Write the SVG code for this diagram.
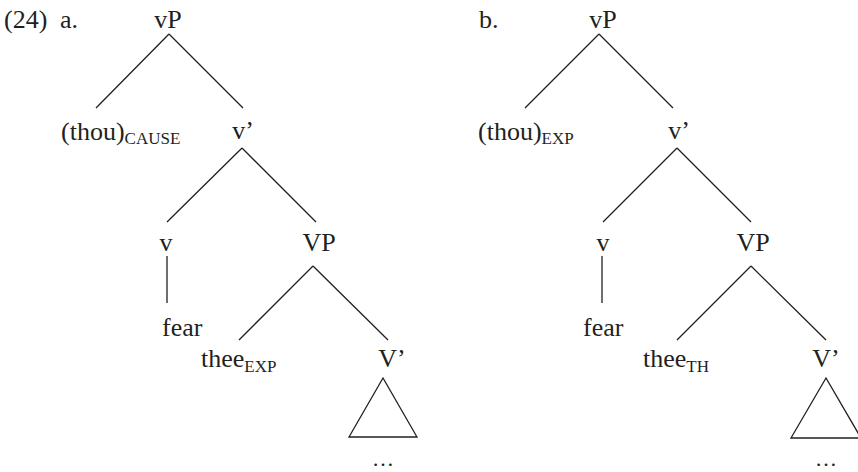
<svg xmlns="http://www.w3.org/2000/svg" width="858" height="472" viewBox="0 0 858 472">
<style>
text{font-family:"Liberation Serif","Times New Roman",serif;font-size:26px;fill:#231f20}
.m{text-anchor:middle}
.s{font-size:17px}
.d{font-size:22px}
.e{stroke:#231f20;stroke-width:1.3;fill:none}
</style>
<rect width="858" height="472" fill="#fff"/>
<text x="4" y="28">(24)</text>
<text x="60" y="28">a.</text>
<text x="479" y="28">b.</text>
<g id="edges" class="e">
<path d="M169,34L96,108M169,34L243,108"/>
<path d="M242,148L167,222M242,148L316,222"/>
<path d="M167,256L167,303"/>
<path d="M313,266L239,340M313,266L388,340"/>
<path d="M383,378L349,437L417,437Z"/>
<path d="M599,34L525,108M599,34L673,108"/>
<path d="M677,148L603,222M677,148L751,222"/>
<path d="M602,256L602,303"/>
<path d="M751,266L677,340M751,266L826,340"/>
<path d="M826,378L791,438L861,438Z"/>
</g>
<g id="a-vP"><text class="m" x="168" y="28">vP</text></g>
<g id="a-thou"><text x="61" y="140">(thou)<tspan class="s" dy="4">CAUSE</tspan></text></g>
<g id="a-v1"><text class="m" x="243" y="139">v’</text></g>
<g id="a-v"><text class="m" x="166" y="251">v</text></g>
<g id="a-VP"><text class="m" x="319" y="251">VP</text></g>
<g id="a-fear"><text x="162" y="336">fear</text></g>
<g id="a-thee"><text x="201" y="367">thee<tspan class="s" dy="5">EXP</tspan></text></g>
<g id="a-V1"><text class="m" x="392" y="367">V’</text></g>
<g id="a-dots"><text class="m d" x="383" y="466">…</text></g>
<g id="b-vP"><text class="m" x="603" y="28">vP</text></g>
<g id="b-thou"><text x="478" y="140">(thou)<tspan class="s" dy="4">EXP</tspan></text></g>
<g id="b-v1"><text class="m" x="679" y="139">v’</text></g>
<g id="b-v"><text class="m" x="603" y="251">v</text></g>
<g id="b-VP"><text class="m" x="753" y="251">VP</text></g>
<g id="b-fear"><text x="583" y="336">fear</text></g>
<g id="b-thee"><text x="643" y="367">thee<tspan class="s" dy="5">TH</tspan></text></g>
<g id="b-V1"><text class="m" x="826" y="367">V’</text></g>
<g id="b-dots"><text class="m d" x="826" y="466">…</text></g>
</svg>
